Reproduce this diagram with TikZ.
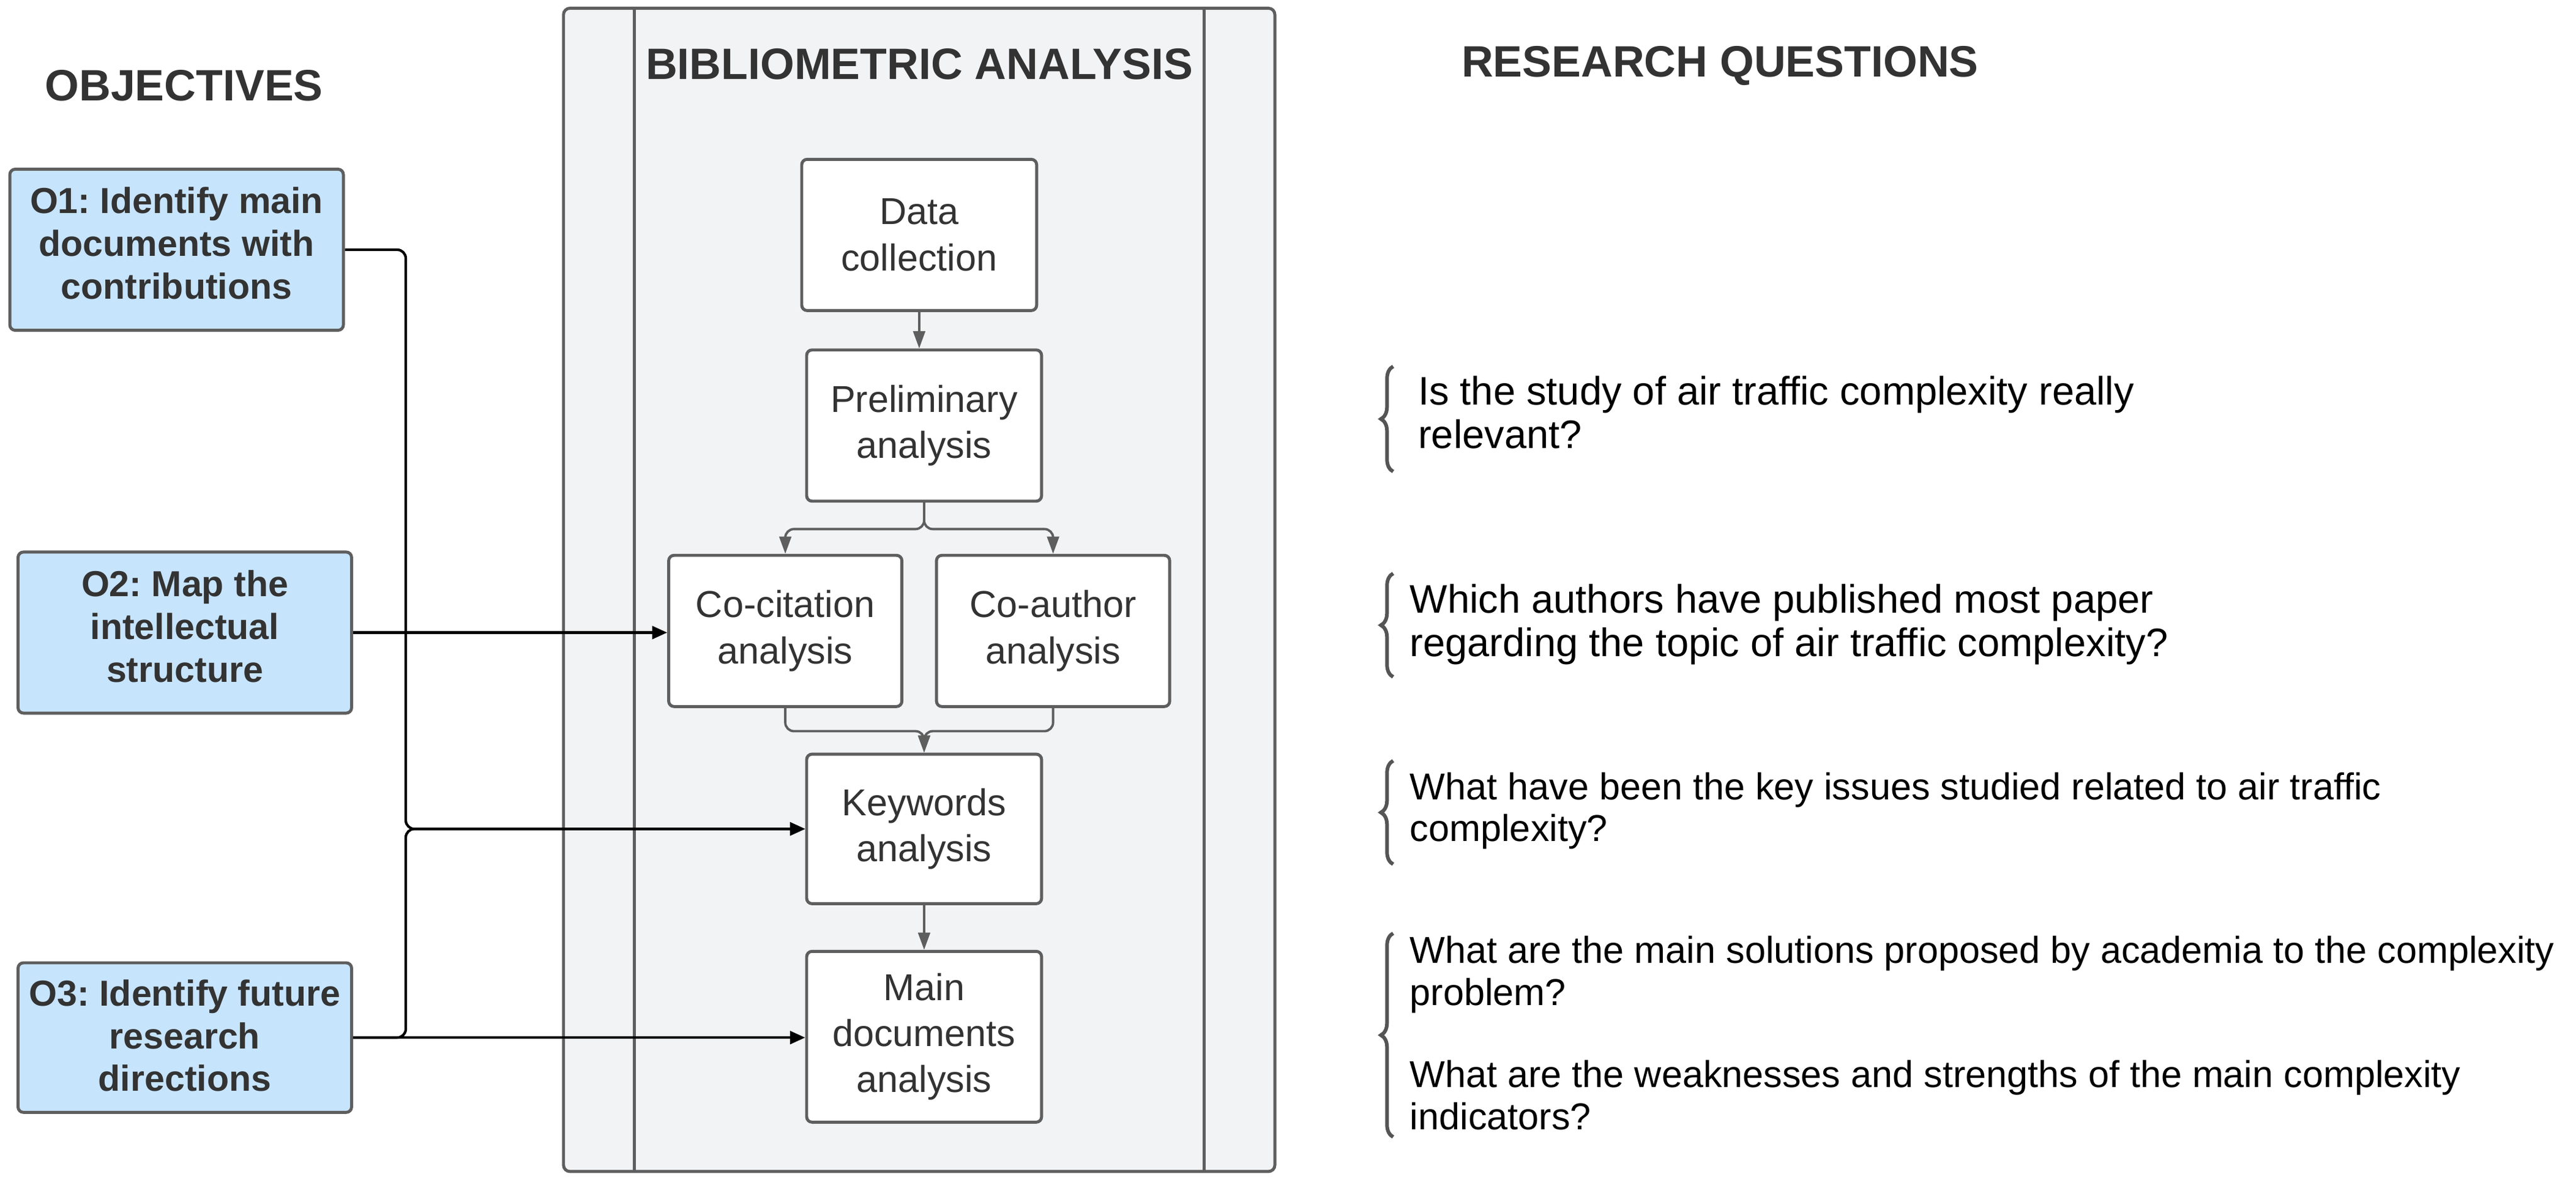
\documentclass[tikz,border=0pt]{standalone}
\usepackage{fontspec}
\setmainfont{Liberation Sans}
\usetikzlibrary{arrows.meta,decorations.pathreplacing,calc}
\definecolor{txt}{HTML}{333333}
\definecolor{bord}{HTML}{5E5E5E}
\definecolor{objfill}{HTML}{C7E4FD}
\definecolor{panelfill}{HTML}{F2F3F5}
\definecolor{garrow}{HTML}{5E5E5E}
\definecolor{bracec}{HTML}{555555}
\frenchspacing
\tikzset{
  stepbox/.style={draw=bord, line width=1.4pt, fill=white, rounded corners=2.5pt,
    minimum width=3.838cm, minimum height=2.47cm, align=center, text=txt,
    font=\fontsize{17.4}{21.4}\selectfont, inner sep=2pt},
  objbox/.style={draw=bord, line width=1.4pt, fill=objfill, rounded corners=2.5pt,
    minimum width=5.449cm, minimum height=2.631cm, align=center, text=txt,
    font=\fontsize{16.8}{19.9}\selectfont\bfseries, inner sep=2pt},
  title/.style={text=txt, font=\fontsize{20.4}{24}\selectfont\bfseries, inner sep=0pt},
  question/.style={anchor=west, align=left, text=black, inner sep=0pt,
    font=\fontsize{17.4}{19.6}\selectfont},
  bigquestion/.style={question, font=\fontsize{18.5}{20}\selectfont},
  bconn/.style={draw=black, line width=1.2pt, rounded corners=4pt,
    -{Triangle[length=7pt,width=6pt]}},
  gconn/.style={draw=garrow, line width=1.1pt, rounded corners=4pt,
    -{Triangle[length=8pt,width=5.5pt]}},
  qbrace/.style={draw=bracec, line width=1.7pt, decorate,
    decoration={brace, amplitude=0.2cm}},
}
\begin{document}
\begin{tikzpicture}[x=0.026843cm, y=-0.026843cm]
\useasboundingbox (0,0) rectangle (1568,721);
% panel
\draw[draw=bord, line width=1.4pt, fill=panelfill, rounded corners=3pt] (343,5) rectangle (776,713);
\draw[draw=bord, line width=1.4pt] (386,5) -- (386,713);
\draw[draw=bord, line width=1.4pt] (733,5) -- (733,713);
% titles
\node[title] (tobj) at (112,52) {OBJECTIVES};
\node[title] (tbib) at (559.5,39) {BIBLIOMETRIC ANALYSIS};
\node[title] (trq) at (1047,40) {RESEARCH QUESTIONS};
% objective boxes
\node[objbox, text depth=6pt] (O1) at (107.5,152) {O1: Identify main\\documents with\\contributions};
\node[objbox, text depth=6pt] (O2) at (112.5,385) {O2: Map the\\intellectual\\structure};
\node[objbox, text depth=2pt, minimum height=2.443cm] (O3) at (112.5,631.5) {O3: Identify future\\research\\directions};
% step boxes
\node[stepbox] (D) at (559.5,143) {Data\\collection};
\node[stepbox] (P) at (562.5,259) {Preliminary\\analysis};
\node[stepbox, minimum width=3.81cm] (C) at (478,384) {Co-citation\\analysis};
\node[stepbox, minimum width=3.81cm] (A) at (641,384) {Co-author\\analysis};
\node[stepbox, minimum height=2.443cm] (K) at (562.5,504.5) {Keywords\\analysis};
\node[stepbox, minimum height=2.79cm] (M) at (562.5,631) {Main\\documents\\analysis};
% internal connectors
\coordinate (s1) at (562.5,322);
\coordinate (s2) at (562.5,445);
\draw[gconn] (D.south) -- (D.south |- P.north);
\draw[gconn] (P.south) -- (s1) -| (C.north);
\draw[gconn] (P.south) -- (s1) -| (A.north);
\draw[gconn] (C.south) |- (s2) -- (K.north);
\draw[gconn] (A.south) |- (s2) -- (K.north);
\draw[gconn] (K.south) -- (M.north);
% objective connectors
\coordinate (bus) at (247,0);
\draw[bconn] (O1.east) -| (bus |- K.west) -- (K.west);
\draw[bconn] (O3.east) -| (bus |- K.west) -- (K.west);
\draw[bconn] (O2.east) -- (O2.east -| C.west);
\draw[bconn] (O3.east) -- (O3.east -| M.west);
% braces
\coordinate (b1a) at (848,287); \coordinate (b1b) at (848,223);
\coordinate (b2a) at (848,412); \coordinate (b2b) at (848,349);
\coordinate (b3a) at (848,526); \coordinate (b3b) at (848,463);
\coordinate (b4a) at (848,692); \coordinate (b4b) at (848,568);
\draw[qbrace] (b1a) -- (b1b);
\draw[qbrace] (b2a) -- (b2b);
\draw[qbrace] (b3a) -- (b3b);
\draw[qbrace] (b4a) -- (b4b);
% questions
\node[bigquestion] (q1) at (863,251) {Is the study of air traffic complexity really\\relevant?};
\node[bigquestion] (q2) at (858,380) {Which authors have published most paper\\regarding the topic of air traffic complexity?};
\node[question] (q3) at (858,493.5) {What have been the key issues studied related to air traffic\\complexity?};
\node[question] (q4a) at (858,593) {What are the main solutions proposed by academia to the complexity\\problem?};
\node[question] (q4b) at (858,666.5) {What are the weaknesses and strengths of the main complexity\\indicators?};
\end{tikzpicture}
\end{document}
